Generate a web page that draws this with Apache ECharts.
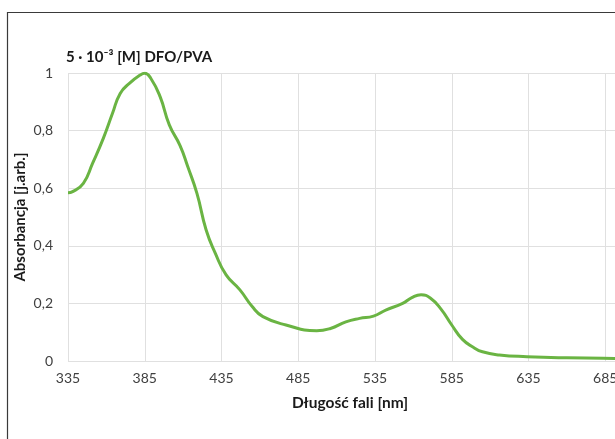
<!DOCTYPE html>
<html>
<head>
<meta charset="utf-8">
<script src="https://cdn.jsdelivr.net/npm/echarts@6/dist/echarts.min.js"></script>
<style>
	html, body { margin: 0; padding: 0; background: #fff; }
	#chart_abs { width: 615px; height: 439px; }
</style>
</head>
<body>
<div id="chart_abs"></div>
<script>
	// dlugosc fali [nm]
	var wavelengths = [335, 338, 345, 351, 358, 364, 369, 375, 382, 385, 389, 395, 401, 408, 413, 419, 425, 431, 438, 447, 455, 462, 477, 497, 506, 516, 525, 534, 542, 553, 559, 565, 571, 578, 585, 592, 599, 605, 616, 634, 660, 691, 735];
	// absorbancja [j.arb.]
	var absorbance = [0.584, 0.588, 0.617, 0.686, 0.773, 0.860, 0.929, 0.964, 0.993, 0.999, 0.981, 0.918, 0.820, 0.748, 0.675, 0.582, 0.455, 0.374, 0.299, 0.247, 0.189, 0.154, 0.125, 0.105, 0.113, 0.136, 0.148, 0.156, 0.177, 0.200, 0.220, 0.230, 0.219, 0.180, 0.125, 0.075, 0.048, 0.032, 0.021, 0.015, 0.011, 0.009, 0.008];

	var points = wavelengths.map(function(w, i) {
		return [w, absorbance[i]];
	});

	var font = 'Lato, "Open Sans", sans-serif';

	var option = {
		animation: false,
		backgroundColor: '#fff',
		textStyle: { fontFamily: font },
		title: {
			left: 61,
			top: 45,
			text: '5 · 10⁻³ [M] DFO/PVA',
			textStyle: {
				fontFamily: font,
				fontSize: 15,
				fontWeight: 'bold',
				color: '#1a1a1a'
			}
		},
		// ramka wykresu (przycieta z prawej i z dolu)
		graphic: [{
			type: 'rect',
			shape: { x: 7.5, y: 12.5, width: 700, height: 500 },
			style: { fill: null, stroke: '#3a3a3a', lineWidth: 1.2 },
			silent: true
		}],
		grid: {
			left: 68,
			top: 73,
			width: 614,
			height: 288,
			outerBoundsMode: 'none',
			containLabel: false
		},
		xAxis: {
			type: 'value',
			min: 335,
			max: 735,
			interval: 50,
			name: 'Długość fali [nm]',
			nameLocation: 'middle',
			nameGap: 34,
			nameMoveOverlap: false,
			nameTextStyle: {
				fontFamily: font, fontSize: 15.5, fontWeight: 'bold', color: '#1a1a1a',
				padding: [0, 50, 0, 0]
			},
			axisLine: { show: false },
			axisTick: { show: false },
			axisLabel: { fontSize: 14, color: '#404040', margin: 10 },
			splitLine: { show: true, lineStyle: { color: '#e0e0e0', width: 1 } }
		},
		yAxis: {
			type: 'value',
			min: 0,
			max: 1,
			interval: 0.2,
			name: 'Absorbancja [j.arb.]',
			nameLocation: 'middle',
			nameGap: 40,
			nameMoveOverlap: false,
			nameTextStyle: { fontFamily: font, fontSize: 15, fontWeight: 'bold', color: '#1a1a1a' },
			axisLine: { show: false },
			axisTick: { show: false },
			axisLabel: {
				fontSize: 14,
				color: '#404040',
				margin: 15,
				formatter: function(v) {
					return String(Math.round(v * 10) / 10).replace('.', ',');
				}
			},
			splitLine: { show: true, lineStyle: { color: '#e0e0e0', width: 1 } }
		},
		series: [{
			type: 'line',
			data: points,
			smooth: 0.5,
			showSymbol: false,
			lineStyle: { color: '#6ab443', width: 3 },
			itemStyle: { color: '#6ab443' }
		}]
	};

	var myChart = echarts.init(document.getElementById('chart_abs'));
	myChart.setOption(option);
</script>
</body>
</html>
